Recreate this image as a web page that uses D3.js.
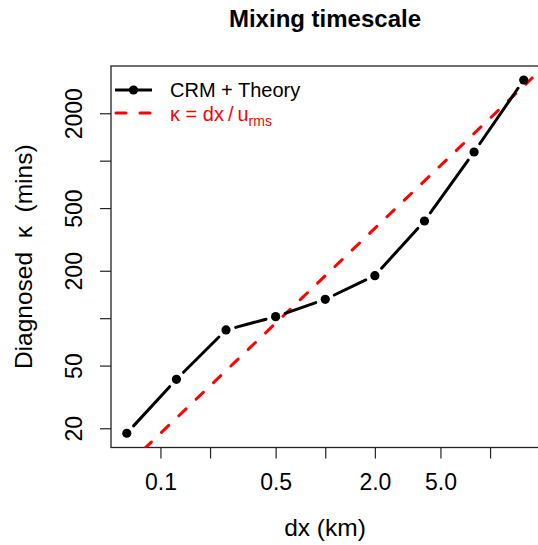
<!DOCTYPE html>
<html>
<head>
<meta charset="utf-8">
<script src="https://cdn.jsdelivr.net/npm/d3@7"></script>
<style>
  body { margin: 0; background: #fff; }
  svg { font-family: "Liberation Sans", Arial, sans-serif; }
</style>
</head>
<body>
<svg id="chart"></svg>
<script>
// values
const dxKm = [0.0625, 0.125, 0.25, 0.5, 1, 2, 4, 8, 16];
const kappaMins = [18.6, 40.9, 84.2, 102.3, 131.8, 186.2, 414, 1135, 3252];
const theoryDx = [0.0625, 18];
const theoryKappa = [11.6, 3350];

const xTicks = [0.1, 0.2, 0.5, 1, 2, 5, 10];
const xTickLabels = ["0.1", "", "0.5", "", "2.0", "5.0", ""];
const yTicks = [20, 50, 100, 200, 500, 1000, 2000];
const yTickLabels = ["20", "50", "", "200", "500", "", "2000"];

const margin = { top: 66, right: -1.5, bottom: 97.5, left: 111 };
const W = 538, H = 545;
const width = W - margin.left - margin.right;
const height = H - margin.top - margin.bottom;

const svg = d3.select("#chart").attr("width", W).attr("height", H);

svg.append("defs").append("clipPath").attr("id", "plotclip")
    .append("rect").attr("width", width).attr("height", height);

const g = svg.append("g").attr("transform", `translate(${margin.left},${margin.top})`);

const x = d3.scaleLog().domain([Math.pow(10, -1.3), Math.pow(10, 1.3)]).range([0, width]);
const y = d3.scaleLog().domain([Math.pow(10, 1.179), Math.pow(10, 3.601)]).range([height, 0]);

// axes
const xAxis = g.append("g")
    .attr("transform", `translate(0,${height})`)
    .call(d3.axisBottom(x).tickValues(xTicks).tickSize(11).tickPadding(4)
        .tickFormat((d, i) => xTickLabels[i]));
xAxis.select(".domain").remove();
xAxis.selectAll("line").attr("stroke", "#222").attr("stroke-width", 1.2);
xAxis.selectAll("text").attr("font-size", 23).attr("fill", "#000")
    .attr("dy", null).attr("y", 42);

const yAxis = g.append("g")
    .call(d3.axisLeft(y).tickValues(yTicks).tickSize(11)
        .tickFormat((d, i) => yTickLabels[i]));
yAxis.select(".domain").remove();
yAxis.selectAll("line").attr("stroke", "#222").attr("stroke-width", 1.2);
yAxis.selectAll("text").attr("font-size", 23).attr("fill", "#000")
    .attr("x", null).attr("dy", null)
    .attr("text-anchor", "middle")
    .attr("transform", "translate(-29.5,0) rotate(-90)");

// box
g.append("rect").attr("width", width).attr("height", height)
    .attr("fill", "none").attr("stroke", "#222").attr("stroke-width", 1.3);

const plot = g.append("g").attr("clip-path", "url(#plotclip)");

// theory line
plot.append("path")
    .datum(theoryDx.map((d, i) => [d, theoryKappa[i]]))
    .attr("d", d3.line().x(d => x(d[0])).y(d => y(d[1])))
    .attr("fill", "none").attr("stroke", "#ff0000").attr("stroke-width", 3)
    .attr("stroke-dasharray", "10,14").attr("stroke-linecap", "round");

// CRM line, type "b": segments with gaps round the points
const pts = dxKm.map((d, i) => [x(d), y(kappaMins[i])]);
const gap = 10;
const segs = d3.pairs(pts).map(([a, b]) => {
    const dx = b[0] - a[0], dy = b[1] - a[1];
    const len = Math.hypot(dx, dy);
    return [a[0] + dx * gap / len, a[1] + dy * gap / len, b[0] - dx * gap / len, b[1] - dy * gap / len];
});
plot.selectAll("line.seg").data(segs).enter().append("line")
    .attr("x1", d => d[0]).attr("y1", d => d[1])
    .attr("x2", d => d[2]).attr("y2", d => d[3])
    .attr("stroke", "#000").attr("stroke-width", 3).attr("stroke-linecap", "round");
plot.selectAll("circle").data(pts).enter().append("circle")
    .attr("cx", d => d[0]).attr("cy", d => d[1]).attr("r", 4.6).attr("fill", "#000");

// legend
const leg = svg.append("g");
leg.append("line").attr("x1", 115).attr("x2", 152).attr("y1", 90).attr("y2", 90)
    .attr("stroke", "#000").attr("stroke-width", 3);
leg.append("circle").attr("cx", 133.5).attr("cy", 90).attr("r", 4.6).attr("fill", "#000");
leg.append("text").attr("x", 170).attr("y", 96.5).attr("font-size", 20).text("CRM + Theory");
leg.append("line").attr("x1", 116).attr("x2", 152).attr("y1", 113).attr("y2", 113)
    .attr("stroke", "#ff0000").attr("stroke-width", 3)
    .attr("stroke-dasharray", "10,14").attr("stroke-linecap", "round");
const rt = leg.append("text").attr("x", 170).attr("y", 121).attr("font-size", 20).attr("fill", "#ff0000");
rt.append("tspan").text("\u03ba = dx\u2009/\u2009u");
rt.append("tspan").attr("font-size", 14).attr("dy", 5).text("rms");

// titles
svg.append("text").attr("x", margin.left + 214).attr("y", 27)
    .attr("text-anchor", "middle").attr("font-size", 24).attr("font-weight", "bold")
    .text("Mixing timescale");
svg.append("text").attr("x", margin.left + 214).attr("y", 536)
    .attr("text-anchor", "middle").attr("font-size", 24.5)
    .text("dx (km)");
svg.append("text")
    .attr("transform", `translate(32,${margin.top + height / 2}) rotate(-90)`)
    .attr("text-anchor", "middle").attr("font-size", 24.5)
    .style("white-space", "pre")
    .text("Diagnosed  \u03ba  (mins)");
</script>
</body>
</html>
